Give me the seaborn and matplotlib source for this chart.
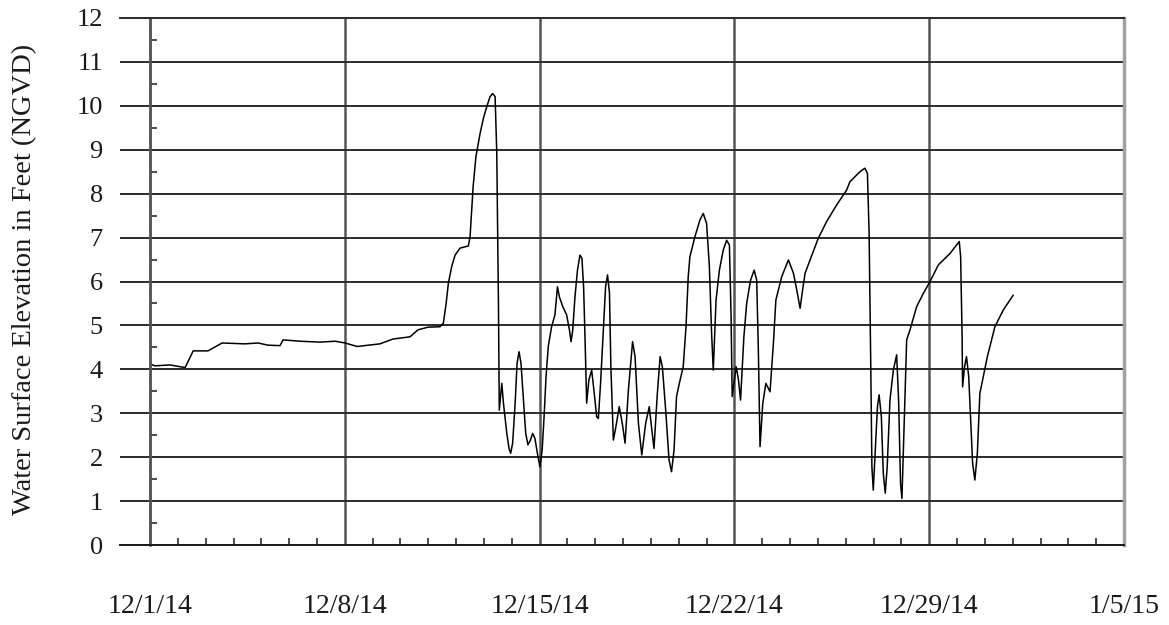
import matplotlib
matplotlib.use("Agg")
import matplotlib.pyplot as plt
import matplotlib.dates as mdates
import numpy as np
import pandas as pd
import seaborn as sns

START = pd.Timestamp("2014-12-01")

# days after 12/1/14
day_offset = [
    0.00, 0.18, 0.72, 1.26, 1.55, 2.08, 2.59, 3.41, 3.88, 4.24,
    4.67, 4.78, 5.39, 6.11, 6.65, 7.01, 7.44, 8.26, 8.73, 9.34,
    9.63, 9.99, 10.42, 10.54, 10.64, 10.72, 10.84, 10.96, 11.14, 11.44,
    11.50, 11.56, 11.61, 11.71, 11.86, 11.98, 12.10, 12.22, 12.31, 12.40,
    12.46, 12.52, 12.55, 12.64, 12.70, 12.82, 12.90, 12.96, 13.03, 13.12,
    13.19, 13.26, 13.33, 13.41, 13.50, 13.58, 13.67, 13.75, 13.83, 13.92,
    14.01, 14.09, 14.16, 14.23, 14.31, 14.43, 14.55, 14.64, 14.71, 14.83,
    14.97, 15.07, 15.13, 15.19, 15.27, 15.36, 15.45, 15.52, 15.58, 15.63,
    15.69, 15.77, 15.87, 15.95, 16.05, 16.11, 16.19, 16.29, 16.37, 16.44,
    16.51, 16.56, 16.65, 16.74, 16.86, 16.97, 17.07, 17.19, 17.34, 17.43,
    17.55, 17.67, 17.81, 17.94, 18.02, 18.11, 18.23, 18.33, 18.41, 18.53,
    18.65, 18.74, 18.83, 18.92, 19.02, 19.16, 19.26, 19.34, 19.40, 19.58,
    19.76, 19.88, 20.00, 20.10, 20.18, 20.24, 20.34, 20.46, 20.60, 20.72,
    20.82, 20.88, 20.92, 21.06, 21.14, 21.22, 21.34, 21.44, 21.58, 21.71,
    21.80, 21.86, 21.92, 22.02, 22.13, 22.28, 22.40, 22.49, 22.70, 22.94,
    23.12, 23.24, 23.36, 23.45, 23.54, 23.72, 24.01, 24.31, 24.67, 25.03,
    25.15, 25.51, 25.69, 25.78, 25.84, 25.90, 25.94, 25.99, 26.06, 26.14,
    26.20, 26.28, 26.35, 26.42, 26.49, 26.59, 26.71, 26.83, 26.90, 26.97,
    27.02, 27.09, 27.19, 27.31, 27.55, 27.79, 28.03, 28.33, 28.75, 29.08,
    29.13, 29.18, 29.20, 29.27, 29.34, 29.42, 29.49, 29.56, 29.64, 29.73,
    29.82, 30.09, 30.36, 30.66, 31.02,
]
# water surface elevation, feet NGVD
elevation = [
    4.12, 4.08, 4.10, 4.04, 4.42, 4.42, 4.60, 4.58, 4.60, 4.55,
    4.54, 4.67, 4.64, 4.62, 4.64, 4.60, 4.52, 4.58, 4.69, 4.74,
    4.90, 4.96, 4.97, 5.05, 5.50, 5.96, 6.34, 6.60, 6.76, 6.81,
    7.02, 7.63, 8.16, 8.84, 9.37, 9.72, 9.98, 10.21, 10.28, 10.21,
    8.92, 5.50, 3.07, 3.68, 3.23, 2.54, 2.20, 2.09, 2.32, 3.23,
    4.14, 4.40, 4.14, 3.38, 2.54, 2.28, 2.39, 2.54, 2.43, 2.09,
    1.78, 2.16, 2.92, 3.83, 4.52, 4.97, 5.24, 5.88, 5.65, 5.43,
    5.24, 4.90, 4.63, 4.90, 5.65, 6.26, 6.60, 6.53, 5.88, 4.74,
    3.23, 3.76, 3.98, 3.53, 2.92, 2.88, 3.68, 4.90, 5.88, 6.15,
    5.73, 4.06, 2.39, 2.69, 3.15, 2.77, 2.32, 3.53, 4.63, 4.29,
    2.77, 2.05, 2.77, 3.15, 2.69, 2.20, 3.45, 4.29, 4.06, 3.07,
    1.94, 1.67, 2.16, 3.38, 3.68, 4.06, 4.97, 6.11, 6.56, 7.02,
    7.40, 7.55, 7.32, 6.34, 4.82, 3.98, 5.58, 6.26, 6.72, 6.94,
    6.83, 5.20, 3.38, 4.06, 3.79, 3.30, 4.74, 5.50, 6.03, 6.26,
    6.03, 4.44, 2.24, 3.23, 3.68, 3.49, 4.59, 5.58, 6.11, 6.49,
    6.19, 5.81, 5.39, 5.81, 6.19, 6.49, 6.98, 7.36, 7.74, 8.08,
    8.27, 8.50, 8.58, 8.46, 7.10, 4.06, 1.78, 1.25, 2.16, 3.15,
    3.42, 2.92, 1.63, 1.18, 1.78, 3.30, 3.98, 4.33, 3.30, 1.40,
    1.06, 2.54, 4.67, 4.90, 5.43, 5.73, 6.00, 6.38, 6.64, 6.91,
    6.56, 4.82, 3.60, 4.06, 4.29, 3.83, 2.85, 1.86, 1.48, 2.09,
    3.45, 4.29, 4.97, 5.35, 5.69,
]

week_dates = pd.date_range("2014-12-01", "2015-01-05", freq="7D")
week_labels = ["12/1/14", "12/8/14", "12/15/14", "12/22/14", "12/29/14", "1/5/15"]
day_dates = pd.date_range("2014-12-01", "2015-01-05", freq="D")

df = pd.DataFrame({
    "time": START + pd.to_timedelta(day_offset, unit="D"),
    "elev": elevation,
})

sns.set_theme(style="white")
plt.rcParams["font.family"] = ["Liberation Serif", "DejaVu Serif"]

fig = plt.figure(figsize=(11.69, 6.25), dpi=100)
ax = fig.add_axes([120 / 1169, 1 - 545 / 625, 1004 / 1169, 527 / 625])

sns.lineplot(data=df, x="time", y="elev", ax=ax, color="black", linewidth=1.1)

ax.set_xlim(mdates.date2num(START) - 1.08, mdates.date2num(week_dates[-1]))
ax.set_ylim(0, 12)

ax.set_xticks(mdates.date2num(week_dates))
ax.set_xticklabels(week_labels)
ax.set_xticks(mdates.date2num(day_dates), minor=True)
ax.set_yticks(np.arange(0, 13, 1))
ax.set_yticks(np.arange(0.5, 12, 1), minor=True)

ax.grid(axis="y", which="major", color="#2b2b2b", linewidth=1.4)
ax.grid(axis="x", which="major", color="#555555", linewidth=1.8)

# y axis drawn at 12/1/14
ax.spines["left"].set_position(("data", mdates.date2num(START)))
ax.spines["left"].set_color("#555555")
ax.spines["left"].set_linewidth(1.8)
ax.spines["right"].set_color("#a0a0a0")
ax.spines["right"].set_linewidth(2.5)
ax.spines["top"].set_color("#2b2b2b")
ax.spines["top"].set_linewidth(1.4)
ax.spines["bottom"].set_color("#1a1a1a")
ax.spines["bottom"].set_linewidth(1.4)

ax.tick_params(axis="x", which="major", direction="out", length=21.6, width=1.8,
               color="#555555", pad=14, labelsize=20, labelcolor="#1a1a1a")
ax.tick_params(axis="x", which="minor", direction="in", length=5, width=1.1,
               color="#1a1a1a", bottom=True)
ax.tick_params(axis="y", which="major", length=0, pad=34, labelsize=19,
               labelcolor="#1a1a1a")
ax.tick_params(axis="y", which="minor", direction="in", length=5, width=1.1,
               color="#1a1a1a", left=True)

ax.set_xlabel("")
ax.set_ylabel("Water Surface Elevation in Feet (NGVD)", fontsize=20.5, color="#1a1a1a")
ax.yaxis.set_label_coords(-0.083, 0.503)

fig.savefig("out.png", dpi=100)
